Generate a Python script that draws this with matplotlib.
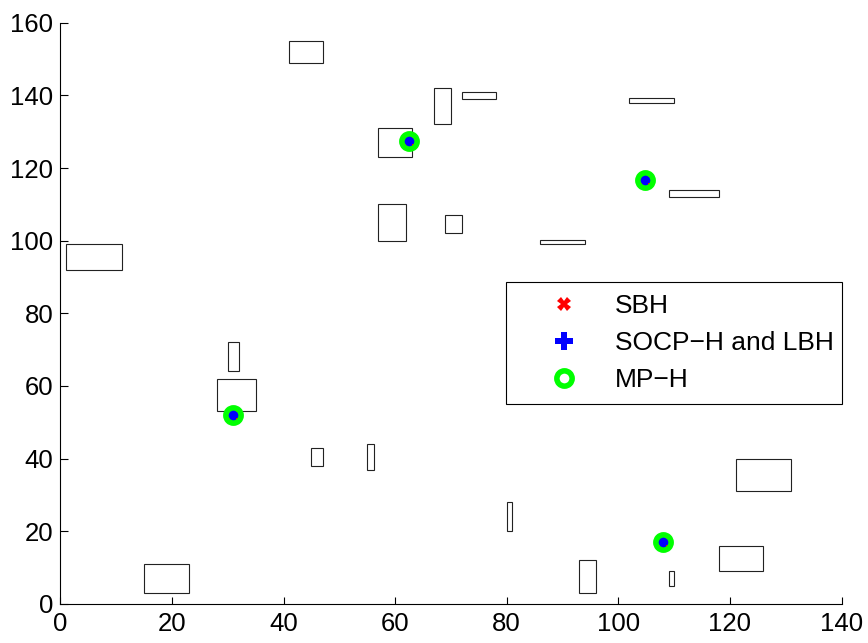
import matplotlib
matplotlib.use("Agg")
import matplotlib.pyplot as plt
from matplotlib.patches import Rectangle

plt.rcParams['font.family'] = ['Liberation Sans', 'DejaVu Sans']

# obstacles: lower-left corner, width, height
rx = [41, 57, 57, 1, 67, 72, 102, 109, 69, 86, 30, 28, 45, 55, 15, 121, 80, 93, 109, 118]
ry = [149, 123, 100, 92, 132, 139, 138, 112, 102, 99, 64, 53, 38, 37, 3, 31, 20, 3, 5, 9]
rw = [6, 6, 5, 10, 3, 6, 8, 9, 3, 8, 2, 7, 2, 1.2, 8, 10, 1, 3, 1, 8]
rh = [6, 8, 10, 7, 10, 2, 1.2, 2, 5, 1.2, 8, 9, 5, 7, 8, 9, 8, 9, 4, 7]

# estimated positions (all three methods agree)
px = [62.5, 104.7, 31.0, 108.0]
py = [127.3, 116.8, 52.0, 17.0]

fig = plt.figure(figsize=(8.68, 6.43), dpi=100)
ax = fig.add_axes([0.0695, 0.0607, 0.9, 0.904])

for x, y, w, h in zip(rx, ry, rw, rh):
    ax.add_patch(Rectangle((x, y), w, h, fill=False, edgecolor='#222222', linewidth=0.8))

ax.plot(px, py, linestyle='none', marker='X', color='red', markersize=10,
        markeredgewidth=0, label='SBH')
ax.plot(px, py, linestyle='none', marker='P', color='blue', markersize=13,
        markeredgewidth=0, label='SOCP\u2212H and LBH')
ax.plot(px, py, linestyle='none', marker='o', markerfacecolor='none',
        markeredgecolor='#00ff00', markersize=11, markeredgewidth=4, label='MP\u2212H')

ax.set_xlim(0, 140)
ax.set_ylim(0, 160)
ax.set_xticks(range(0, 141, 20))
ax.set_yticks(range(0, 161, 20))
ax.spines['top'].set_visible(False)
ax.spines['right'].set_visible(False)
for s in ('left', 'bottom'):
    ax.spines[s].set_linewidth(0.8)
ax.tick_params(direction='in', length=5.4, width=0.8, labelsize=18.5)
ax.tick_params(axis='x', pad=6)
ax.tick_params(axis='y', pad=5)

leg = ax.legend(loc='upper left', bbox_to_anchor=(0.571, 0.346, 0.429, 0.208),
                mode='expand', fontsize=19,
                frameon=True, fancybox=False, framealpha=1, edgecolor='black',
                borderpad=0.45, handlelength=3.5, handletextpad=0.15,
                labelspacing=0.5, borderaxespad=0)
leg.get_frame().set_linewidth(0.8)

fig.savefig('out.png', dpi=100)
